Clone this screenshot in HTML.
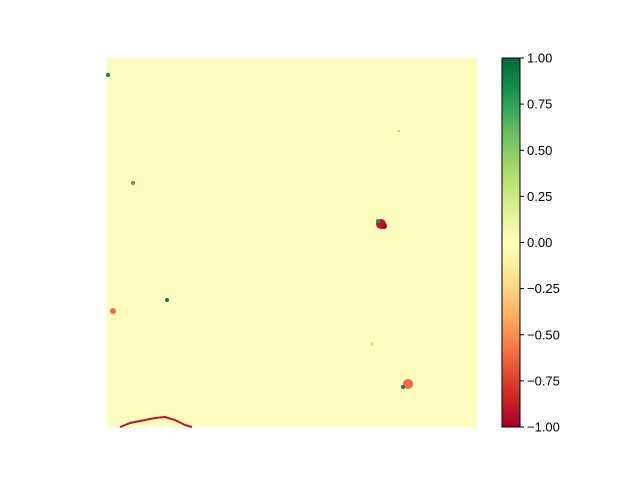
<!DOCTYPE html>
<html><head><meta charset="utf-8"><style>
body{margin:0;background:#fff;}
svg{display:block;font-family:"Liberation Sans","DejaVu Sans",sans-serif;}
</style></head><body>
<svg width="640" height="480">
<defs>
<linearGradient id="cm" x1="0" y1="1" x2="0" y2="0">
<stop offset="0" stop-color="#a50026"/><stop offset="0.1" stop-color="#d73027"/>
<stop offset="0.2" stop-color="#f46d43"/><stop offset="0.3" stop-color="#fdae61"/>
<stop offset="0.4" stop-color="#fee08b"/><stop offset="0.5" stop-color="#ffffbf"/>
<stop offset="0.6" stop-color="#d9ef8b"/><stop offset="0.7" stop-color="#a6d96a"/>
<stop offset="0.8" stop-color="#66bd63"/><stop offset="0.9" stop-color="#1a9850"/>
<stop offset="1" stop-color="#006837"/>
</linearGradient>
</defs>
<rect x="107" y="58" width="370" height="369" fill="#fdfdbd"/>
<g id="spots"></g>
<path d="M120,427 L130,423 L145,420 L155,418 L165,417 L175,420 L185,425 L192,427" fill="none" stroke="#c8102e" stroke-width="2"/>
<rect x="502" y="58" width="18" height="369" fill="url(#cm)" stroke="#000" stroke-width="1"/>
<g id="cbticks" font-size="13" fill="#000"></g>
</svg>
<script>
const tickValues=[1,0.75,0.5,0.25,0,-0.25,-0.5,-0.75,-1];
const tickLabels=["1.00","0.75","0.50","0.25","0.00","\u22120.25","\u22120.50","\u22120.75","\u22121.00"];
const spotX=[381,384,378,408,403,113,167,133,108,372,399];
const spotY=[224,226,221,384,387,311,300,183,75,344,131];
const spotV=[-0.9,-1,0.8,-0.6,0.9,-0.6,0.9,0.7,0.9,-0.3,-0.4];
const spotR=[5,3,2,5,2,3,2,2,2,1.5,1];
function yCb(v){return 427-(v+1)/2*369;}
function color(v){
 const s=[[-1,[165,0,38]],[-0.8,[215,48,39]],[-0.6,[244,109,67]],[-0.4,[253,174,97]],[-0.2,[254,224,139]],[0,[255,255,191]],[0.2,[217,239,139]],[0.4,[166,217,106]],[0.6,[102,189,99]],[0.8,[26,152,80]],[1,[0,104,55]]];
 for(let i=0;i<s.length-1;i++){if(v<=s[i+1][0]){const t=(v-s[i][0])/(s[i+1][0]-s[i][0]);const c=s[i][1].map((a,j)=>Math.round(a+t*(s[i+1][1][j]-a)));return `rgb(${c})`;}}
 return 'rgb(0,104,55)';
}
const ns="http://www.w3.org/2000/svg";
const g=document.getElementById('spots');
spotX.forEach((x,i)=>{const c=document.createElementNS(ns,'circle');
c.setAttribute('cx',x);c.setAttribute('cy',spotY[i]);c.setAttribute('r',spotR[i]);c.setAttribute('fill',color(spotV[i]));


g.appendChild(c);});
const tg=document.getElementById('cbticks');
tickValues.forEach((v,i)=>{const y=yCb(v);
const l=document.createElementNS(ns,'line');l.setAttribute('x1',520);l.setAttribute('x2',524);l.setAttribute('y1',y);l.setAttribute('y2',y);l.setAttribute('stroke','#000');


tg.appendChild(l);
const t=document.createElementNS(ns,'text');t.setAttribute('x',527);t.setAttribute('y',y+4.5);t.textContent=tickLabels[i];


tg.appendChild(t);});
</script>
</body></html>
